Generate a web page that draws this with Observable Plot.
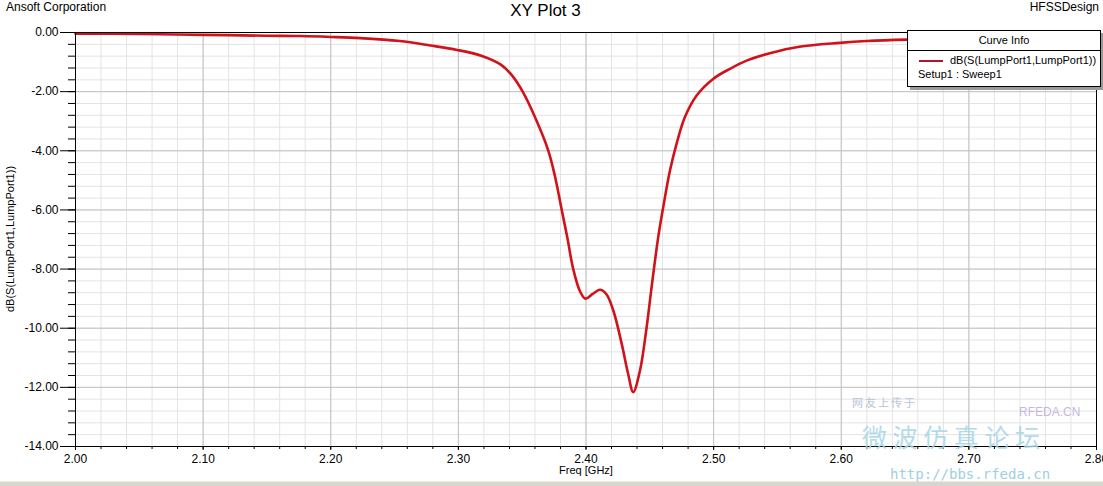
<!DOCTYPE html>
<html>
<head>
<meta charset="utf-8">
<script src="https://cdn.jsdelivr.net/npm/d3@7"></script>
<script src="https://cdn.jsdelivr.net/npm/@observablehq/plot@0.6"></script>
<style>
  body { margin: 0; background: #fff; font-family: "Liberation Sans", Arial, sans-serif; }
  #wrap { position: relative; width: 1103px; height: 486px; overflow: hidden; background: #fff; }
  #wrap svg { position: absolute; left: 0; top: 0; }
  .t { position: absolute; white-space: nowrap; color: #000; line-height: 1; }
</style>
</head>
<body>
<div id="wrap"></div>
<script>
// ---- data ----
const freq = [2.00, 2.05, 2.08, 2.12, 2.15, 2.176, 2.20, 2.223, 2.254, 2.278, 2.299, 2.319, 2.333, 2.342,
  2.3504, 2.360, 2.3705, 2.3755, 2.381, 2.3855, 2.390, 2.3953, 2.3995, 2.405, 2.411, 2.416, 2.4214, 2.428, 2.433, 2.437,
  2.4423, 2.4475, 2.4514, 2.4566, 2.4605, 2.4658, 2.471, 2.4775, 2.4867, 2.4996, 2.5127, 2.5258, 2.544, 2.567,
  2.599, 2.62, 2.651, 2.70, 2.75, 2.80];
const s11 = [-0.04, -0.05, -0.07, -0.09, -0.11, -0.12, -0.15, -0.19, -0.29, -0.44, -0.59, -0.80, -1.08, -1.45,
  -2.00, -2.86, -4.00, -4.83, -6.00, -6.97, -8.00, -8.75, -9.00, -8.85, -8.70, -8.85, -9.40, -10.53, -11.54, -12.16,
  -11.43, -9.97, -8.61, -6.92, -5.91, -4.67, -3.76, -2.86, -2.13, -1.57, -1.23, -0.95, -0.70, -0.48,
  -0.35, -0.29, -0.24, -0.20, -0.17, -0.15];
const xTicks = [2.00, 2.10, 2.20, 2.30, 2.40, 2.50, 2.60, 2.70, 2.80];
const yTicks = [0, -2, -4, -6, -8, -10, -12, -14];
const xMinorStep = 0.02;
const yMinorStep = 0.4;

const seriesName = "dB(S(LumpPort1,LumpPort1))";
const setupName = "Setup1 : Sweep1";
const titleText = "XY Plot 3";
const companyText = "Ansoft Corporation";
const designText = "HFSSDesign";
const xLabel = "Freq [GHz]";
const yLabel = "dB(S(LumpPort1,LumpPort1))";

const data = freq.map((f, i) => ({ f, v: s11[i] }));
const xMinor = d3.range(0, 41).map(i => +(2 + i * xMinorStep).toFixed(3));
const yMinor = d3.range(0, 36).map(i => +(-i * yMinorStep).toFixed(2));
const fmt = v => v.toFixed(2);

const W = 1103, H = 486;
const plot = Plot.plot({
  width: W,
  height: H,
  marginLeft: 75,
  marginRight: 7,
  marginTop: 32,
  marginBottom: 40,
  style: { fontFamily: "'Liberation Sans', Arial, sans-serif", fontSize: "12px", background: "transparent", color: "#000" },
  x: { domain: [2.0, 2.8] },
  y: { domain: [-14, 0] },
  marks: [
    Plot.gridX(xMinor, { stroke: "#e3e3e3", strokeOpacity: 1 }),
    Plot.gridY(yMinor, { stroke: "#e3e3e3", strokeOpacity: 1 }),
    Plot.gridX(xTicks, { stroke: "#c2c2c2", strokeOpacity: 1 }),
    Plot.gridY(yTicks, { stroke: "#c2c2c2", strokeOpacity: 1 }),
    Plot.line(data, { x: "f", y: "v", stroke: "#d0121b", strokeWidth: 2.6, curve: "catmull-rom" }),
    Plot.frame({ stroke: "#000" }),
    Plot.axisY(yMinor, { tickSize: 7, tickFormat: () => "", label: null, stroke: "#000" }),
    Plot.axisY(yTicks, { tickSize: 15, tickPadding: 2, tickFormat: fmt, label: null, fontSize: 12, stroke: "#000" }),
    Plot.axisX(xMinor, { tickSize: 3, tickFormat: () => "", label: null, stroke: "#000" }),
    Plot.axisX(xTicks, { tickSize: 4, tickPadding: 4, tickFormat: fmt, label: null, fontSize: 12, stroke: "#000" })
  ]
});

const wrap = document.getElementById("wrap");
wrap.appendChild(plot);

function addText(txt, css) {
  const d = document.createElement("div");
  d.className = "t";
  d.textContent = txt;
  Object.assign(d.style, css);
  wrap.appendChild(d);
  return d;
}

// header texts
addText(companyText, { left: "6px", top: "1px", fontSize: "12px" });
addText(titleText, { left: "0px", width: "1103px", textAlign: "center", top: "2px", fontSize: "17px", marginLeft: "-6px" });
addText(designText, { right: "4px", top: "1px", fontSize: "12px" });

// axis titles
addText(xLabel, { left: "536px", width: "100px", textAlign: "center", top: "465px", fontSize: "11px" });
addText(yLabel, { left: "10px", top: "239px", fontSize: "11px", transform: "translate(-50%,-50%) rotate(-90deg)", transformOrigin: "center" });

// bottom status strip
const strip = document.createElement("div");
Object.assign(strip.style, { position: "absolute", left: "0px", top: "481px", width: "1103px", height: "5px", background: "#d8d6cf", borderTop: "1px solid #ecebe6" });
wrap.appendChild(strip);

// watermark
addText("网友上传于", { left: "852px", top: "397px", fontSize: "11px", color: "#b4c6d8", fontFamily: "'Noto Sans CJK SC'", letterSpacing: "2px" });
addText("RFEDA.CN", { left: "1019px", top: "406px", fontSize: "12px", color: "#c7b7df" });
addText("微 波 仿 真 论 坛", { left: "862px", top: "424px", fontSize: "25px", color: "#a8d5e6", fontFamily: "'Noto Sans CJK SC'", opacity: "0.85" });
addText("http://bbs.rfeda.cn", { left: "890px", top: "467px", fontSize: "14px", color: "#9fcfe0", fontFamily: "'DejaVu Sans Mono', monospace" });

// legend box
const lg = document.createElement("div");
Object.assign(lg.style, {
  position: "absolute", left: "907px", top: "30px", width: "192px", height: "55px",
  background: "#fff", border: "1px solid #000", boxShadow: "3px 3px 0 #9a9a9a", fontSize: "11px"
});
wrap.appendChild(lg);
const hdr = document.createElement("div");
Object.assign(hdr.style, { position: "absolute", left: "0", top: "0", width: "192px", height: "19px", borderBottom: "1px solid #000", textAlign: "center", lineHeight: "19px" });
hdr.textContent = "Curve Info";
lg.appendChild(hdr);
const sw = document.createElement("div");
Object.assign(sw.style, { position: "absolute", left: "11px", top: "29px", width: "24px", height: "2px", background: "#b0132b" });
lg.appendChild(sw);
const l1 = document.createElement("div");
Object.assign(l1.style, { position: "absolute", left: "42px", top: "23px", whiteSpace: "nowrap", lineHeight: "13px" });
l1.textContent = seriesName;
lg.appendChild(l1);
const l2 = document.createElement("div");
Object.assign(l2.style, { position: "absolute", left: "10px", top: "37px", whiteSpace: "nowrap", lineHeight: "13px" });
l2.textContent = setupName;
lg.appendChild(l2);
</script>
</body>
</html>
